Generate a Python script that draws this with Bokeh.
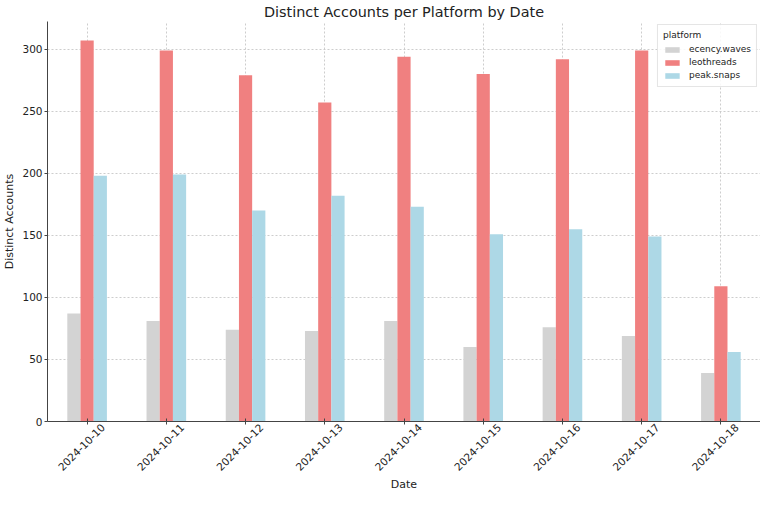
from bokeh.plotting import figure
from bokeh.models import (ColumnDataSource, Range1d, Legend, LegendItem, FixedTicker)
from bokeh.transform import dodge
from bokeh.embed import file_html
from bokeh.resources import INLINE

dates = ["2024-10-10", "2024-10-11", "2024-10-12", "2024-10-13", "2024-10-14",
         "2024-10-15", "2024-10-16", "2024-10-17", "2024-10-18"]
platforms = ["ecency.waves", "leothreads", "peak.snaps"]
ecency_waves = [87, 81, 74, 73, 81, 60, 76, 69, 39]
leothreads = [307, 299, 279, 257, 294, 280, 292, 299, 109]
peak_snaps = [198, 199, 170, 182, 173, 151, 155, 149, 56]
y_ticks = [0, 50, 100, 150, 200, 250, 300]
colors = ["#d3d3d3", "#f08080", "#add8e6"]

FONT = "DejaVu Sans"
n = len(dates)
idx = list(range(n))
src = ColumnDataSource(dict(idx=idx, ecency_waves=ecency_waves,
                            leothreads=leothreads, peak_snaps=peak_snaps))
ymax = max(leothreads + peak_snaps + ecency_waves) * 1.05

p = figure(x_range=Range1d(-0.5, n - 0.5), y_range=Range1d(0, ymax),
           width=760, height=494, output_backend="svg", toolbar_location=None,
           title="Distinct Accounts per Platform by Date",
           min_border_left=2, min_border_right=0, min_border_top=0, min_border_bottom=0)

p.title.text_font = FONT
p.title.text_font_size = "14.4px"
p.title.text_font_style = "normal"
p.title.text_color = "#222222"
p.title.align = "center"
p.title.standoff = 3

bw = 0.5 / 3
cols = ["ecency_waves", "leothreads", "peak_snaps"]
offsets = [-bw, 0.0, bw]
items = []
for col, off, c, name in zip(cols, offsets, colors, platforms):
    r = p.vbar(x=dodge("idx", off), top=col, width=bw, source=src,
               fill_color=c, line_color=None)
    items.append(LegendItem(label=name, renderers=[r]))

legend = Legend(items=items, location="top_right", title="platform")
legend.title_text_font = FONT
legend.title_text_font_size = "9px"
legend.title_text_font_style = "normal"
legend.title_text_color = "#222222"
legend.title_standoff = 3
legend.label_text_font = FONT
legend.label_text_font_size = "9px"
legend.label_text_color = "#222222"
legend.label_height = 12
legend.glyph_height = 7
legend.glyph_width = 18
legend.label_standoff = 8
legend.spacing = 1
legend.padding = 5
legend.margin = 3
legend.border_line_color = "#cccccc"
legend.background_fill_alpha = 0.85
p.add_layout(legend)

for ax in (p.xaxis, p.yaxis):
    ax.major_label_text_font = FONT
    ax.major_label_text_font_size = "10.5px"
    ax.major_label_text_color = "#222222"
    ax.axis_label_text_font = FONT
    ax.axis_label_text_font_size = "11px"
    ax.axis_label_text_font_style = "normal"
    ax.axis_label_text_color = "#222222"
    ax.axis_line_color = "#444444"
    ax.major_tick_line_color = "#444444"
    ax.major_tick_in = 0
    ax.major_tick_out = 3
    ax.minor_tick_line_color = None
    ax.major_label_standoff = 2
    ax.axis_label_standoff = 3

# x axis: labels centred under each date (label ticks shifted, tick marks via minor ticks)
shift = 0.2
label_pos = [i + shift for i in idx]
p.xaxis.ticker = FixedTicker(ticks=label_pos, minor_ticks=idx)
p.xaxis.major_label_overrides = {pos: d for pos, d in zip(label_pos, dates)}
p.xaxis.major_tick_line_color = None
p.xaxis.major_tick_in = 0
p.xaxis.major_tick_out = 0
p.xaxis.minor_tick_line_color = "#444444"
p.xaxis.minor_tick_in = 3
p.xaxis.minor_tick_out = 3
p.xaxis.major_label_orientation = 0.7854
p.xaxis.major_label_standoff = 1
p.xaxis.axis_label_standoff = 1
p.xgrid.ticker = FixedTicker(ticks=idx)

p.xaxis.axis_label = "Date"
p.yaxis.axis_label = "Distinct Accounts"
p.yaxis.ticker = FixedTicker(ticks=y_ticks)

p.outline_line_color = None
for g in (p.xgrid, p.ygrid):
    g.grid_line_color = "#c8c8c8"
    g.grid_line_dash = "2 2"
    g.grid_line_alpha = 0.9

open("out.html", "w").write(file_html(p, INLINE))
